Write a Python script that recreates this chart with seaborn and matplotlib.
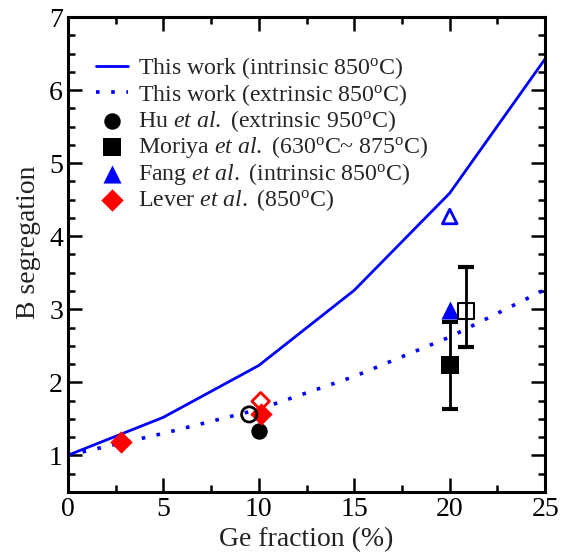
import numpy as np
import pandas as pd
import seaborn as sns
import matplotlib.pyplot as plt
from matplotlib.ticker import MultipleLocator

# curves from this work
ge = [0, 5, 10, 15, 20, 25]
seg_intrinsic = [1.0, 1.52, 2.23, 3.26, 4.59, 6.43]
seg_extrinsic = [1.0, 1.30, 1.63, 2.08, 2.62, 3.27]

# literature points (filled / open)
hu_x, hu_y = [10.0], [1.33]
hu_open_x, hu_open_y = [9.5], [1.56]
moriya_x, moriya_y = [20.0], [2.24]
moriya_err_lo, moriya_err_hi = [1.64], [2.83]
moriya_open_x, moriya_open_y = [20.85], [2.98]
moriya_open_lo, moriya_open_hi = [2.48], [3.58]
fang_x, fang_y = [20.0], [2.99]
fang_open_x, fang_open_y = [20.0], [4.27]
lever_x, lever_y = [2.8, 10.1], [1.18, 1.57]
lever_open_x, lever_open_y = [10.1], [1.74]

sns.set_theme(style="ticks")
plt.rcParams['font.family'] = ['Liberation Serif', 'DejaVu Serif']
plt.rcParams['mathtext.fontset'] = 'custom'
plt.rcParams['mathtext.rm'] = 'Liberation Serif'
plt.rcParams['mathtext.it'] = 'Liberation Serif:italic'

fig = plt.figure(figsize=(5.65, 5.52), dpi=100)
ax = fig.add_axes([0.120, 0.109, 0.845, 0.860])

deg = r'$^{\rm o}$'
sns.lineplot(x=ge, y=seg_intrinsic, color='blue', lw=2, ax=ax,
             label='This work (intrinsic 850' + deg + 'C)')
sns.lineplot(x=ge, y=seg_extrinsic, color='blue', lw=2.6, ax=ax,
             linestyle=(0, (1, 3.2)), label='This work (extrinsic 850' + deg + 'C)')

# error bars (Moriya)
yerr = np.array([[moriya_y[0] - moriya_err_lo[0]], [moriya_err_hi[0] - moriya_y[0]]])
ax.errorbar(moriya_x, moriya_y, yerr=yerr, fmt='none', ecolor='black',
            elinewidth=2, capsize=5.5, capthick=3, zorder=2)
yerr2 = np.array([[moriya_open_y[0] - moriya_open_lo[0]], [moriya_open_hi[0] - moriya_open_y[0]]])
ax.errorbar(moriya_open_x, moriya_open_y, yerr=yerr2, fmt='none', ecolor='black',
            elinewidth=2, capsize=5.5, capthick=3, zorder=2)

sns.scatterplot(x=hu_x, y=hu_y, marker='o', color='black', s=140, linewidth=0,
                ax=ax, zorder=3, label=r'Hu $\it{et\ al.}$ (extrinsic 950' + deg + 'C)')
sns.scatterplot(x=moriya_x, y=moriya_y, marker='s', color='black', s=150, linewidth=0,
                ax=ax, zorder=3, label=r'Moriya $\it{et\ al.}$ (630' + deg + 'C~ 875' + deg + 'C)')
sns.scatterplot(x=fang_x, y=fang_y, marker='^', color='blue', s=170, linewidth=0,
                ax=ax, zorder=3, label=r'Fang $\it{et\ al.}$ (intrinsic 850' + deg + 'C)')
sns.scatterplot(x=lever_x, y=lever_y, marker='D', color='red', s=130, linewidth=0,
                ax=ax, zorder=3, label=r'Lever $\it{et\ al.}$ (850' + deg + 'C)')

# open markers
ax.scatter(hu_open_x, hu_open_y, marker='o', s=120, facecolors='none',
           edgecolors='black', linewidths=2, zorder=3)
ax.scatter(moriya_open_x, moriya_open_y, marker='s', s=130, facecolors='none',
           edgecolors='black', linewidths=1.5, zorder=3)
ax.scatter(fang_open_x, fang_open_y, marker='^', s=110, facecolors='none',
           edgecolors='blue', linewidths=2, zorder=3)
ax.scatter(lever_open_x, lever_open_y, marker='D', s=80, facecolors='none',
           edgecolors='red', linewidths=2, zorder=3)

ax.set_xlim(0, 25)
ax.set_ylim(0.5, 7)
ax.xaxis.set_major_locator(MultipleLocator(5))
ax.xaxis.set_minor_locator(MultipleLocator(2.5))
ax.yaxis.set_major_locator(MultipleLocator(1))
ax.yaxis.set_minor_locator(MultipleLocator(0.25))
ax.tick_params(which='both', direction='in', top=True, right=True,
               width=1.8, labelsize=20, colors='black')
ax.tick_params(which='major', length=10)
ax.tick_params(which='minor', length=5)
for sp in ax.spines.values():
    sp.set_linewidth(2.2)
    sp.set_color('black')

ax.set_xlabel('Ge fraction (%)', fontsize=20, labelpad=4, color='#222222')
ax.set_ylabel('B segregation', fontsize=20, color='#222222')
ax.yaxis.set_label_coords(-0.056, 0.525)

ax.legend(loc='upper left', bbox_to_anchor=(0.04, 0.94), frameon=False,
          fontsize=17.2, labelspacing=0.02, handlelength=1.3, handletextpad=0.45,
          borderaxespad=0)

fig.savefig('out.png', dpi=100)
